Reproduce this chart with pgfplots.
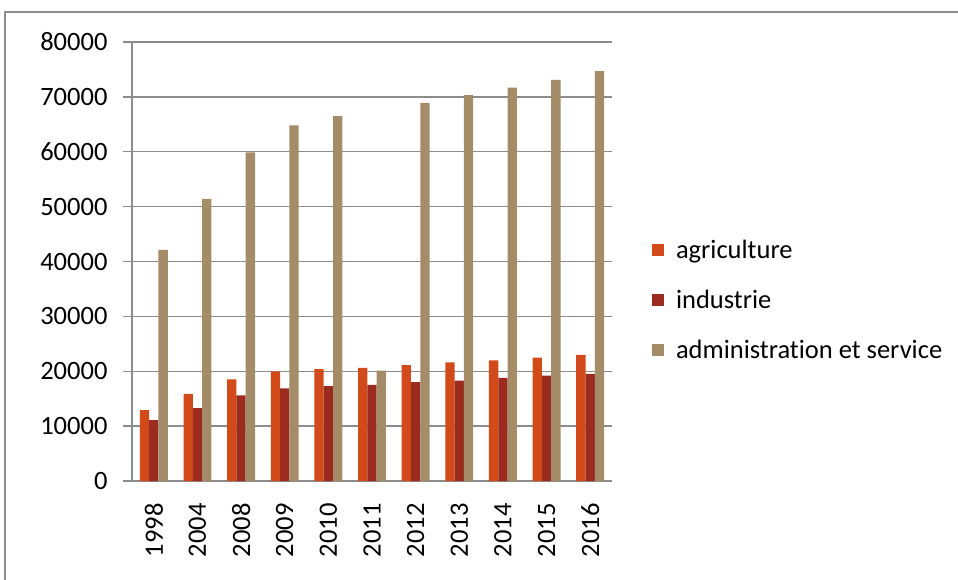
\documentclass[border=0pt]{standalone}
\usepackage{fontspec}
\setmainfont{Carlito}[Ligatures=NoCommon]
\usepackage{pgfplots}
\pgfplotsset{compat=1.18}
\definecolor{agri}{HTML}{D24A1A}
\definecolor{indu}{HTML}{9C2B1F}
\definecolor{admin}{HTML}{A58C69}
\definecolor{gridc}{HTML}{8C8C8C}
\newcommand{\bigf}{\fontsize{26.5}{31}\selectfont}
\begin{document}
\begin{tikzpicture}
\path[use as bounding box] (0,0) rectangle (958pt,-580pt);
\draw[gridc, line width=2pt] (5pt,-600pt) -- (5pt,-12pt) -- (980pt,-12pt);
\begin{axis}[
  at={(132pt,-481pt)}, anchor=south west,
  scale only axis, width=480pt, height=439pt,
  ybar=0pt, bar width=9.3pt,
  xmin=-0.5, xmax=10.5, ymin=0, ymax=80000,
  axis x line*=bottom, axis y line*=left,
  axis line style={gridc, line width=1.3pt, -},
  xtick={0,...,10},
  xticklabels={1998,2004,2008,2009,2010,2011,2012,2013,2014,2015,2016},
  major x tick style={draw=none},
  extra x ticks={-0.5,0.5,...,10.5},
  extra x tick labels={},
  extra x tick style={major tick length=8pt, tick style={gridc, line width=1.3pt}, grid=none},
  xticklabel style={rotate=90, anchor=east, font=\bigf, yshift=0pt, xshift=-10pt},
  ytick={0,10000,...,80000},
  ymajorgrids, grid style={gridc, line width=1.3pt},
  major y tick style={gridc, line width=1.3pt},
  tick align=outside, major tick length=9pt,
  yticklabel style={font=\bigf, xshift=-12pt},
  scaled y ticks=false,
  /pgf/number format/.cd, set thousands separator={}, assume math mode=true,
  /pgfplots/.cd,
  legend style={at={(1.083,0.413)}, anchor=west, draw=none, fill=none, font=\bigf,
    row sep=26pt, cells={anchor=west}, inner sep=0pt,
    /tikz/every odd column/.append style={column sep=10pt}},
  legend image code/.code={\fill[#1,draw=none] (0pt,-6pt) rectangle (12pt,6pt);},
]
\addplot[fill=agri, draw=none] coordinates {(0,12900) (1,15900) (2,18500) (3,20000) (4,20400) (5,20600) (6,21100) (7,21600) (8,22000) (9,22500) (10,23000)};
\addplot[fill=indu, draw=none] coordinates {(0,11100) (1,13300) (2,15600) (3,16900) (4,17300) (5,17500) (6,18000) (7,18300) (8,18800) (9,19200) (10,19500)};
\addplot[fill=admin, draw=none] coordinates {(0,42100) (1,51400) (2,59900) (3,64800) (4,66500) (5,20100) (6,68900) (7,70300) (8,71700) (9,73100) (10,74700)};
\legend{agriculture, industrie, administrat\kern0pt ion et service}
\end{axis}
\end{tikzpicture}
\end{document}
